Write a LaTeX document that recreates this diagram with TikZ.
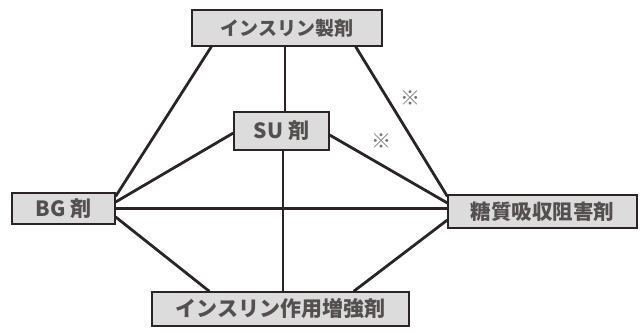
\documentclass[tikz,border=0pt]{standalone}
\usepackage{fontspec}
\newfontfamily\jpfont{Noto Sans CJK JP}
\usetikzlibrary{calc}
\definecolor{boxfill}{HTML}{DCDCDC}
\definecolor{ink}{HTML}{2A2424}
\tikzset{
  drug/.style={draw=ink, line width=1.3pt, fill=boxfill, inner sep=0pt,
    font=\jpfont\bfseries\fontsize{19}{19}\selectfont, text=ink!80},
  link/.style={draw=ink, line width=2.8pt},
  notemark/.style={font=\jpfont\bfseries\fontsize{20}{20}\selectfont, text=gray!90!black, inner sep=0pt}
}
\begin{document}
\begin{tikzpicture}[x=1pt,y=-1pt]
\useasboundingbox (0,0) rectangle (640,332);
\node[drug, minimum width=190pt, minimum height=36pt] (top) at (287,28) {インスリン製剤};
\node[drug, minimum width=95pt, minimum height=38pt, font=\jpfont\bfseries\fontsize{21}{21}\selectfont] (su) at (281.5,131) {SU 剤};
\node[drug, minimum width=103pt, minimum height=31pt, font=\jpfont\bfseries\fontsize{21}{21}\selectfont] (bg) at (63.5,208.5) {BG 剤};
\node[drug, minimum width=189pt, minimum height=33pt, font=\jpfont\bfseries\fontsize{20.5}{20.5}\selectfont] (sugar) at (542.5,211.5) {糖質吸収阻害剤};
\node[drug, minimum width=257pt, minimum height=34pt, font=\jpfont\bfseries\fontsize{21}{21}\selectfont] (bot) at (280.5,309) {インスリン作用増強剤};
\draw[link] ($(top.south west)+(20,0)$) -- ($(bg.north east)+(0,4)$);
\draw[link] ($(top.south east)+(-27,0)$) -- ($(sugar.north west)+(0,2)$);
\draw[link] ($(top.south)+(-2,0)$) -- ($(su.north)+(3.5,0)$);
\draw[link] ($(su.south)+(1.5,0)$) -- ($(bot.north)+(2.5,0)$);
\draw[link] ($(su.west)+(0,2)$) -- ($(bg.east)+(0,-6.5)$);
\draw[link] ($(su.east)+(0,4)$) -- ($(sugar.west)+(0,-8.5)$);
\draw[link] (bg.east) -- (bg.east -| sugar.west);
\draw[link] ($(bg.east)+(0,8.5)$) -- ($(bot.north west)+(58,0)$);
\draw[link] ($(sugar.west)+(0,8.5)$) -- ($(bot.north east)+(-56,0)$);
\node[notemark] (m1) at (410,98) {※};
\node[notemark] (m2) at (381,141) {※};
\end{tikzpicture}
\end{document}
